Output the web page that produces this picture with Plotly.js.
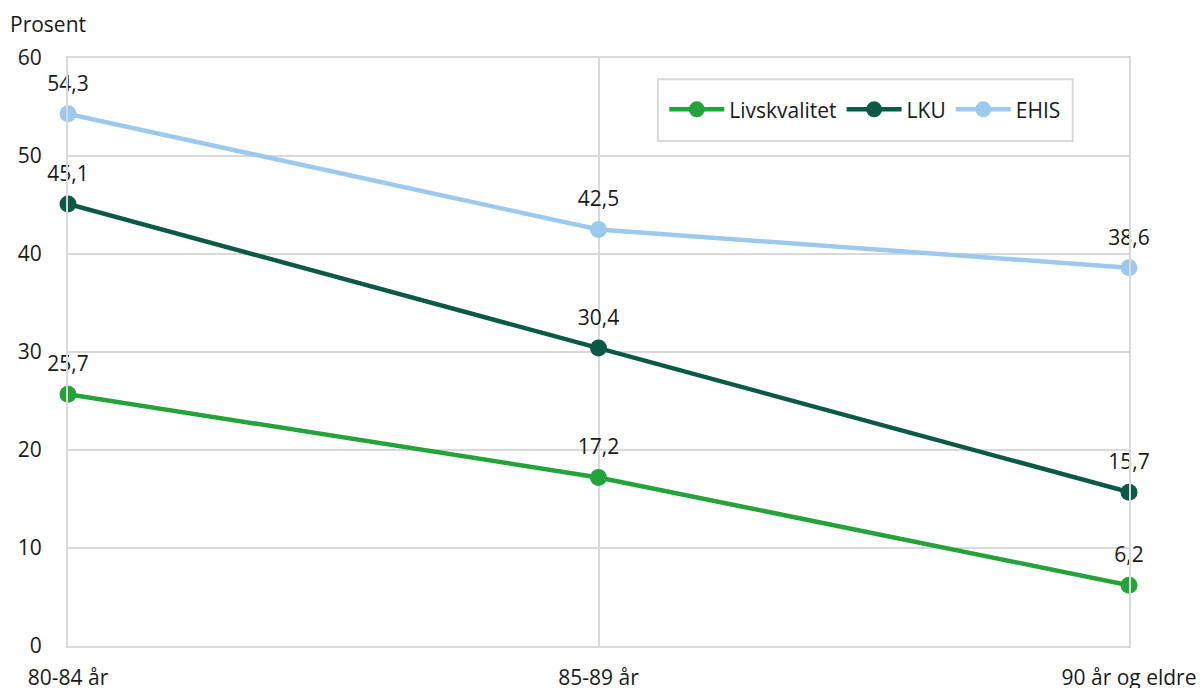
<!DOCTYPE html>
<html>
<head>
<meta charset="utf-8">
<script src="https://cdn.plot.ly/plotly-3.0.1.min.js"></script>
<style>
  html, body { margin: 0; padding: 0; background: #fff; }
  #chart { width: 1201px; height: 688px; }
</style>
</head>
<body>
<div id="chart"></div>
<script>
// Age groups on the x axis
const ageGroups = ['80-84 år', '85-89 år', '90 år og eldre'];

// Share (prosent) per survey
const livskvalitet = [25.7, 17.2, 6.2];
const lku = [45.1, 30.4, 15.7];
const ehis = [54.3, 42.5, 38.6];

const seriesNames = ['Livskvalitet', 'LKU', 'EHIS'];
const seriesColors = ['#23a33a', '#0b5a45', '#9dc9ee'];
const seriesValues = [livskvalitet, lku, ehis];

const fontFamily = '"Open Sans", "Noto Sans", sans-serif';
const textColor = '#1a1a1a';
const gridColor = '#d9d9d9';
const fontSize = 21;

// Lines with markers (these carry the legend entries)
const lineTraces = seriesValues.map((vals, i) => ({
  type: 'scatter',
  mode: 'lines+markers',
  name: seriesNames[i],
  x: ageGroups,
  y: vals,
  line: { color: seriesColors[i], width: 4.5 },
  marker: { color: seriesColors[i], size: 17 },
  cliponaxis: false
}));

// Value labels: invisible wide markers push the text clear of the dots
const labelTraces = seriesValues.map((vals, i) => ({
  type: 'scatter',
  mode: 'markers+text',
  name: seriesNames[i],
  showlegend: false,
  x: ageGroups,
  y: vals,
  marker: { color: 'rgba(0,0,0,0)', size: 27 },
  texttemplate: '%{y:.1f}',
  textposition: 'top center',
  textfont: { family: fontFamily, size: fontSize, color: textColor },
  cliponaxis: false
}));

const layout = {
  width: 1201,
  height: 688,
  margin: { l: 68, r: 72, t: 58, b: 42 },
  paper_bgcolor: '#ffffff',
  plot_bgcolor: '#ffffff',
  separators: ', ',
  font: { family: fontFamily, size: fontSize, color: textColor },
  showlegend: true,
  legend: {
    orientation: 'h',
    x: 0.562,
    y: 0.947,
    xanchor: 'left',
    yanchor: 'top',
    bgcolor: 'rgba(0,0,0,0)',
    borderwidth: 0,
    font: { family: fontFamily, size: fontSize, color: textColor },
    itemwidth: 55,
    tracegroupgap: 0
  },
  xaxis: {
    type: 'category',
    range: [0, 2],
    showgrid: true,
    gridcolor: gridColor,
    gridwidth: 2,
    zeroline: false,
    showline: true,
    mirror: true,
    linecolor: gridColor,
    linewidth: 2,
    ticks: '',
    ticklabelstandoff: 12,
    tickfont: { family: fontFamily, size: fontSize, color: textColor },
    fixedrange: true
  },
  yaxis: {
    range: [0, 60],
    dtick: 10,
    showgrid: true,
    gridcolor: gridColor,
    gridwidth: 2,
    zeroline: false,
    showline: true,
    mirror: true,
    linecolor: gridColor,
    linewidth: 2,
    ticks: '',
    ticklabelstandoff: 20,
    tickfont: { family: fontFamily, size: fontSize, color: textColor },
    fixedrange: true
  },
  shapes: [{
    type: 'rect',
    xref: 'paper', yref: 'paper',
    x0: 0.556, x1: 0.947,
    y0: 0.859, y1: 0.964,
    fillcolor: '#ffffff',
    line: { color: gridColor, width: 2 },
    layer: 'below'
  }],
  annotations: [{
    text: 'Prosent',
    xref: 'paper', yref: 'paper',
    x: -0.057, y: 1.0,
    xanchor: 'left', yanchor: 'bottom',
    yshift: 18,
    showarrow: false,
    font: { family: fontFamily, size: fontSize, color: textColor }
  }]
};

Plotly.newPlot('chart', lineTraces.concat(labelTraces), layout, { displayModeBar: false, staticPlot: true });
</script>
</body>
</html>
